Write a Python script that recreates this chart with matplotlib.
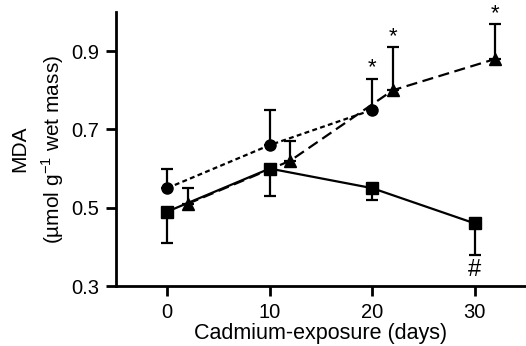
import matplotlib.pyplot as plt

# days of cadmium exposure
days = [0, 10, 20, 30]
tri_days = [2, 12, 22, 32]  # triangles are shifted right a bit

circle_mda = [0.55, 0.66, 0.75]
circle_err = [0.05, 0.09, 0.08]

square_mda = [0.49, 0.60, 0.55, 0.46]
square_err = [0.08, 0.07, 0.03, 0.08]

tri_mda = [0.51, 0.62, 0.80, 0.88]
tri_err = [0.04, 0.05, 0.11, 0.09]

star_x = [20, 22, 32]
star_y = [0.83, 0.91, 0.97]

plt.rcParams['font.family'] = ['Liberation Sans', 'DejaVu Sans']
plt.rcParams['mathtext.fontset'] = 'custom'
plt.rcParams['mathtext.rm'] = 'Liberation Sans'

fig = plt.figure(figsize=(5.26, 3.46), dpi=100)
ax = fig.add_axes([0.2205, 0.1734, 0.7795, 0.7919])

lw = 1.6
cap = 4
# circles, dotted line, upper error bars
ax.errorbar(days[:3], circle_mda, yerr=[[0] * 3, circle_err], fmt='o', color='black',
            ms=8, lw=lw, ls=(0, (2.2, 1.5)), capsize=cap, capthick=lw, elinewidth=lw, zorder=3)
# squares, solid line, lower error bars
ax.errorbar(days, square_mda, yerr=[square_err, [0] * 4], fmt='s', color='black',
            ms=8, lw=lw, ls='-', capsize=cap, capthick=lw, elinewidth=lw, zorder=3)
# triangles, dashed line, upper error bars
ax.errorbar(tri_days, tri_mda, yerr=[[0] * 4, tri_err], fmt='^', color='black',
            ms=8, lw=lw, ls=(0, (5, 2.5)), capsize=cap, capthick=lw, elinewidth=lw, zorder=3)

for x, y in zip(star_x, star_y):
    ax.text(x, y, '*', ha='center', va='bottom', fontsize=16)
ax.text(30, 0.37, '#', ha='center', va='top', fontsize=17)

ax.set_xlim(-5, 35)
ax.set_ylim(0.3, 1.0)
ax.set_xticks([0, 10, 20, 30])
ax.set_yticks([0.3, 0.5, 0.7, 0.9])
ax.set_yticklabels(['0.3', '0.5', '0.7', '0.9'])
ax.spines['top'].set_visible(False)
ax.spines['right'].set_visible(False)
ax.spines['left'].set_linewidth(2)
ax.spines['bottom'].set_linewidth(2)
ax.tick_params(width=2, length=7, labelsize=14.5, pad=5)

ax.set_xlabel('Cadmium-exposure (days)', fontsize=15.5, labelpad=1)
ax.set_ylabel('MDA\n(µmol g$^{-1}$ wet mass)', fontsize=15, labelpad=4, linespacing=1.5)

fig.savefig('out.png', dpi=100)
